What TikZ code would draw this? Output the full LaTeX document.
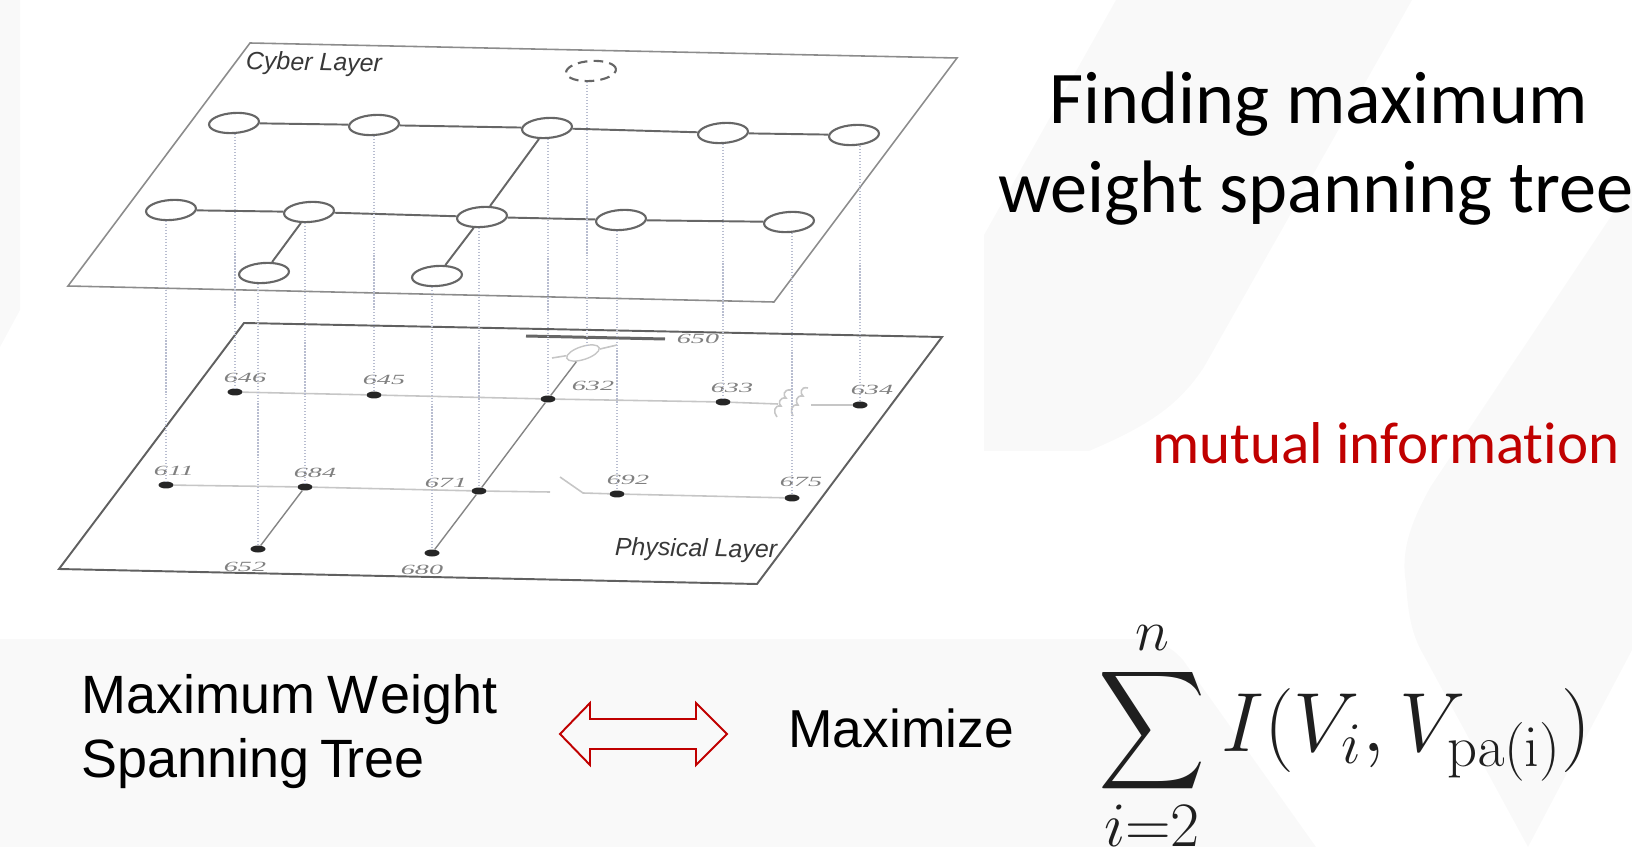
\documentclass[tikz,border=0pt]{standalone}
\usepackage{fix-cm}
\usepackage{amsmath}
\usepackage[no-math]{fontspec}
\setmainfont[Ligatures=NoCommon]{Carlito}
\newfontfamily\arialfont{Liberation Sans}
\newfontfamily\serifitfont[Ligatures=TeX]{Liberation Serif}
\usepackage{tikz}
\usetikzlibrary{shapes.geometric}
\usepackage{xcolor}
\definecolor{wash}{HTML}{F9F9F9}
\definecolor{crimson}{HTML}{C00000}
\definecolor{plane}{HTML}{8C8C8C}
\definecolor{planedark}{HTML}{606060}
\definecolor{edgeline}{HTML}{666666}
\definecolor{feeder}{HTML}{C6C6C6}
\definecolor{link}{HTML}{B8BDD0}

\begin{document}
\begin{tikzpicture}[x=0.02cm, y=-0.02cm,
    cyber/.style={ellipse, draw=edgeline, fill=white, line width=1.2pt, minimum width=1cm, minimum height=0.4cm, inner sep=0pt, rotate=4},
    phys/.style={ellipse, fill=black!85, minimum width=0.3cm, minimum height=0.14cm, inner sep=0pt},
    bus/.style={draw=edgeline, line width=1.1pt},
    feed/.style={draw=feeder, line width=0.9pt},
    vlink/.style={draw=link, line width=0.7pt, densely dotted},
    busid/.style={font=\serifitfont\itshape\fontsize{8}{8}\selectfont, text=black!50, xscale=2, transform shape},
    layername/.style={font=\arialfont\itshape\fontsize{14.2}{14.2}\selectfont, text=black!78, rotate=-1},
    mathpart/.style={text=black!88, inner sep=0pt}]
    \useasboundingbox (0, 0) rectangle (1632, 847);

    \fill[wash] (0, 0) -- (20, 0) -- (20, 310) -- (0, 347) -- cycle;
    \fill[wash] (984, 451) -- (984, 235) -- (1116, 0) -- (1412, 0) -- (1204, 367)
        .. controls (1179, 405) and (1150, 425) .. (1089, 451) -- cycle;
    \fill[wash] (1632, 185) -- (1431, 486) .. controls (1412, 520) and (1400, 550) .. (1406, 583)
        .. controls (1408, 615) and (1412, 635) .. (1423, 654) -- (1528, 847) -- (1632, 650) -- cycle;
    \fill[wash] (0, 639) -- (1130, 639) .. controls (1155, 639) and (1170, 645) .. (1183, 660)
        -- (1316, 847) -- (0, 847) -- cycle;

    \draw[plane, line width=0.9pt, line join=miter] (250, 43) -- (957, 58) -- (774, 302) -- (68, 286) -- cycle;
    \draw[planedark, line width=1.1pt] (244, 323) -- (942, 337) -- (757, 584) -- (59, 569) -- cycle;

    \node[layername] (cybername) at (314, 64) {Cyber Layer};
    \node[layername] (physname) at (696, 550) {Physical Layer};

    \node[cyber] (c646) at (234, 123) {};
    \node[cyber] (c645) at (374, 125) {};
    \node[cyber] (c632) at (547, 128) {};
    \node[cyber] (c633) at (723, 133) {};
    \node[cyber] (c634) at (854, 135) {};
    \node[cyber] (c611) at (171, 210) {};
    \node[cyber] (c684) at (309, 212) {};
    \node[cyber] (c671) at (482, 217) {};
    \node[cyber] (c692) at (621, 220) {};
    \node[cyber] (c675) at (789, 222) {};
    \node[cyber] (c652) at (264, 273) {};
    \node[cyber] (c680) at (437, 276) {};
    \node[cyber, dash pattern=on 5.5pt off 3.5pt] (c650) at (591, 71) {};

    \draw[bus] (c646) -- (c645);
    \draw[bus] (c645) -- (c632);
    \draw[bus] (c632) -- (c633);
    \draw[bus] (c633) -- (c634);
    \draw[bus] (c611) -- (c684);
    \draw[bus] (c684) -- (c671);
    \draw[bus] (c671) -- (c692);
    \draw[bus] (c692) -- (c675);
    \draw[bus] (c684) -- (c652);
    \draw[bus] (c671) -- (c680);
    \draw[bus] (c632) -- (c671);

    \node[phys] (p646) at (235, 392) {};
    \node[phys] (p645) at (374, 395) {};
    \node[phys] (p632) at (548, 399) {};
    \node[phys] (p633) at (723, 402) {};
    \node[phys] (p634) at (860, 405) {};
    \node[phys] (p611) at (166, 485) {};
    \node[phys] (p684) at (305, 487) {};
    \node[phys] (p671) at (479, 491) {};
    \node[phys] (p692) at (617, 494) {};
    \node[phys] (p675) at (792, 498) {};
    \node[phys] (p652) at (258, 549) {};
    \node[phys] (p680) at (432, 553) {};

    \node[busid] (l646) at (245, 378) {646};
    \node[busid] (l645) at (384, 380) {645};
    \node[busid] (l632) at (593, 386) {632};
    \node[busid] (l633) at (732, 388) {633};
    \node[busid] (l634) at (872, 390) {634};
    \node[busid] (l611) at (174, 471) {611};
    \node[busid] (l684) at (315, 473) {684};
    \node[busid] (l671) at (446, 483) {671};
    \node[busid] (l692) at (628, 480) {692};
    \node[busid] (l675) at (801, 482) {675};
    \node[busid] (l652) at (245, 567) {652};
    \node[busid] (l680) at (422, 570) {680};
    \node[busid] (l650) at (698, 339) {650};

    \coordinate (busw) at (526, 336);
    \coordinate (buse) at (665, 339);
    \coordinate (regw) at (778, 404);
    \coordinate (rege) at (811, 405);
    \coordinate (gapw) at (550, 492);
    \coordinate (swopen) at (560, 477);
    \coordinate (swpivot) at (583, 493);
    \coordinate (tapw) at (552, 358);
    \coordinate (tape) at (617, 345);
    \coordinate (tap650) at (587, 345);
    \node[ellipse, draw=feeder, line width=0.8pt, minimum width=0.68cm, minimum height=0.26cm, inner sep=0pt, rotate=18] (xfmr) at (583, 353) {};

    \draw[edgeline, line width=1.7pt] (busw) -- (buse);
    \draw[feed] (xfmr) -- (tapw);
    \draw[feed] (xfmr) -- (tape);
    \draw[feed] (p646) -- (p645);
    \draw[feed] (p645) -- (p632);
    \draw[feed] (p632) -- (p633);
    \draw[feed] (p633) -- (regw);
    \draw[feed] (rege) -- (p634);
    \draw[feed] (p611) -- (p684);
    \draw[feed] (p684) -- (p671);
    \draw[feed] (p671) -- (gapw);
    \draw[feed] (swopen) -- (swpivot) -- (p692);
    \draw[feed] (p692) -- (p675);
    \draw[draw=edgeline!80, line width=0.8pt] (p684) -- (p652);
    \draw[draw=edgeline!80, line width=0.8pt] (p671) -- (p680);
    \draw[draw=edgeline!80, line width=0.8pt] (p632) -- (p671);
    \draw[draw=edgeline!80, line width=0.8pt] (p632) -- (xfmr);

    \draw[feed] (808, 388) .. controls (800, 386) and (800, 394) .. (803, 396)
        .. controls (796, 395) and (795, 402) .. (798, 405)
        .. controls (791, 404) and (790, 411) .. (793, 416);
    \draw[feed] (791, 390) .. controls (783, 389) and (783, 396) .. (786, 398)
        .. controls (779, 397) and (778, 404) .. (781, 406)
        .. controls (774, 405) and (773, 412) .. (777, 417);

    \draw[vlink] (c646.south -| p646) -- (p646);
    \draw[vlink] (c645.south -| p645) -- (p645);
    \draw[vlink] (c632.south -| p632) -- (p632);
    \draw[vlink] (c633.south -| p633) -- (p633);
    \draw[vlink] (c634.south -| p634) -- (p634);
    \draw[vlink] (c611.south -| p611) -- (p611);
    \draw[vlink] (c684.south -| p684) -- (p684);
    \draw[vlink] (c671.south -| p671) -- (p671);
    \draw[vlink] (c692.south -| p692) -- (p692);
    \draw[vlink] (c675.south -| p675) -- (p675);
    \draw[vlink] (c652.south -| p652) -- (p652);
    \draw[vlink] (c680.south -| p680) -- (p680);
    \draw[vlink] (c650.south -| tap650) -- (tap650);

    \node[font=\fontsize{42.3}{51}\selectfont, anchor=base, inner sep=0pt] (goal) at (1318.5, 124) {Finding maximum};
    \node[font=\fontsize{42.3}{51}\selectfont, anchor=base west, inner sep=0pt] (goalb) at (998, 213) {weight spanning tree};
    \node[font=\fontsize{33.6}{41}\selectfont, text=crimson, anchor=base west, inner sep=0pt] (mutual) at (1152, 463) {mutual information};

    \node[font=\arialfont\fontsize{30.7}{36}\selectfont, anchor=base west, inner sep=0pt] (mwst) at (81, 713) {Maximum\kern-1.5pt{} W\kern1.5pt{}eight};
    \node[font=\arialfont\fontsize{30.7}{36}\selectfont, anchor=base west, inner sep=0pt] (mwstb) at (81, 777) {Spanning\kern-2.3pt{} T\kern-3.9pt{}ree};
    \node[font=\arialfont\fontsize{30.4}{36}\selectfont, anchor=base west, inner sep=0pt] (maxim) at (788, 747) {Maximize};

    \draw[crimson, line width=1.1pt, fill=wash] (560, 734) -- (590, 703) -- (590, 719) -- (696, 719) -- (696, 703)
        -- (727, 734) -- (696, 765) -- (696, 749) -- (590, 749) -- (590, 765) -- cycle;

    \node[mathpart, font=\fontsize{39.4}{47}\selectfont, xscale=1.7, yscale=1.9, transform shape] (sumsign) at (1152, 731) {$\displaystyle\sum$};
    \node[mathpart, font=\fontsize{33}{40}\selectfont] (sumtop) at (1152, 638) {$n$};
    \node[mathpart, font=\fontsize{36}{43}\selectfont, anchor=base] (sumbot) at (1152, 846) {$i{=}2$};
    \node[mathpart, font=\fontsize{47.8}{58}\selectfont, anchor=base west] (objective) at (1221, 751)
        {$I(V_i, V_{\mathrm{pa(i)}})$};
\end{tikzpicture}
\end{document}
